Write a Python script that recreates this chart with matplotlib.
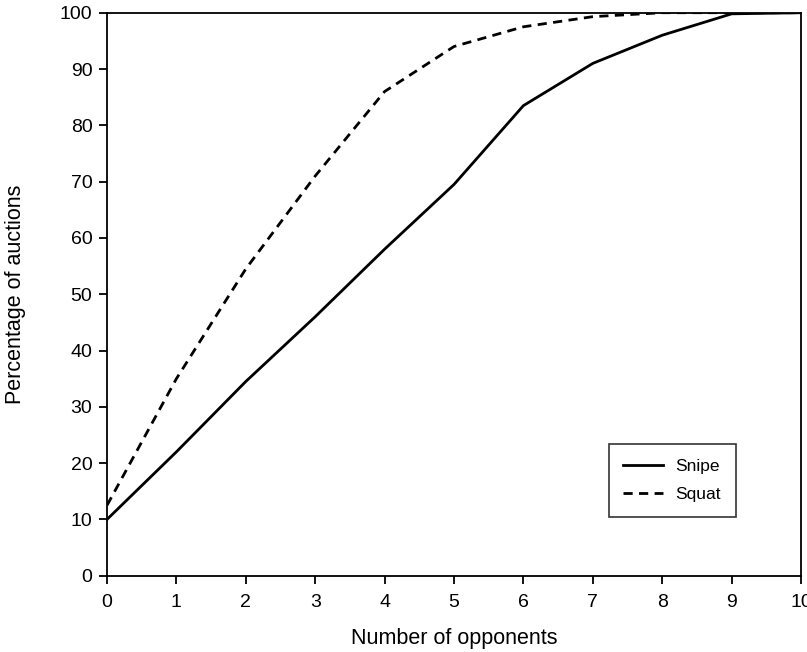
import matplotlib
matplotlib.use("Agg")
import matplotlib.pyplot as plt

plt.rcParams['font.family'] = ['Liberation Sans', 'DejaVu Sans']

opponents = [0, 1, 2, 3, 4, 5, 6, 7, 8, 9, 10]
snipe = [10, 22, 34.5, 46, 58, 69.5, 83.5, 91, 96, 99.8, 100]
squat = [12.5, 35, 54.5, 71, 86, 94, 97.5, 99.3, 100, 100, 100]

fig = plt.figure(figsize=(8.07, 6.52), dpi=100)
ax = fig.add_axes([0.1326, 0.117, 0.86, 0.8635])

ax.plot(opponents, snipe, color='black', lw=2, label='Snipe')
ax.plot(opponents, squat, color='black', lw=2, ls=(0, (3.3, 2.3)), label='Squat')

ax.set_xlim(0, 10)
ax.set_ylim(0, 100)
ax.set_xticks(range(0, 11))
ax.set_yticks(range(0, 101, 10))
ax.tick_params(direction='out', length=5.5, width=1.3, labelsize=14, pad=5,
               top=False, right=False)
ax.tick_params(axis='x', pad=8)
for s in ax.spines.values():
    s.set_linewidth(1.3)

ax.set_xlabel("Number of opponents", fontsize=15.5, labelpad=12)
ax.set_ylabel("Percentage of auctions", fontsize=15.5, labelpad=24)

leg = ax.legend(loc='lower right', bbox_to_anchor=(0.906, 0.104), fontsize=12.5,
                frameon=True, fancybox=False, edgecolor='black',
                handlelength=2.3, handletextpad=0.7, borderpad=0.85,
                borderaxespad=0, labelspacing=0.75)
leg.get_frame().set_linewidth(1.2)

fig.savefig("out.png", dpi=100)
